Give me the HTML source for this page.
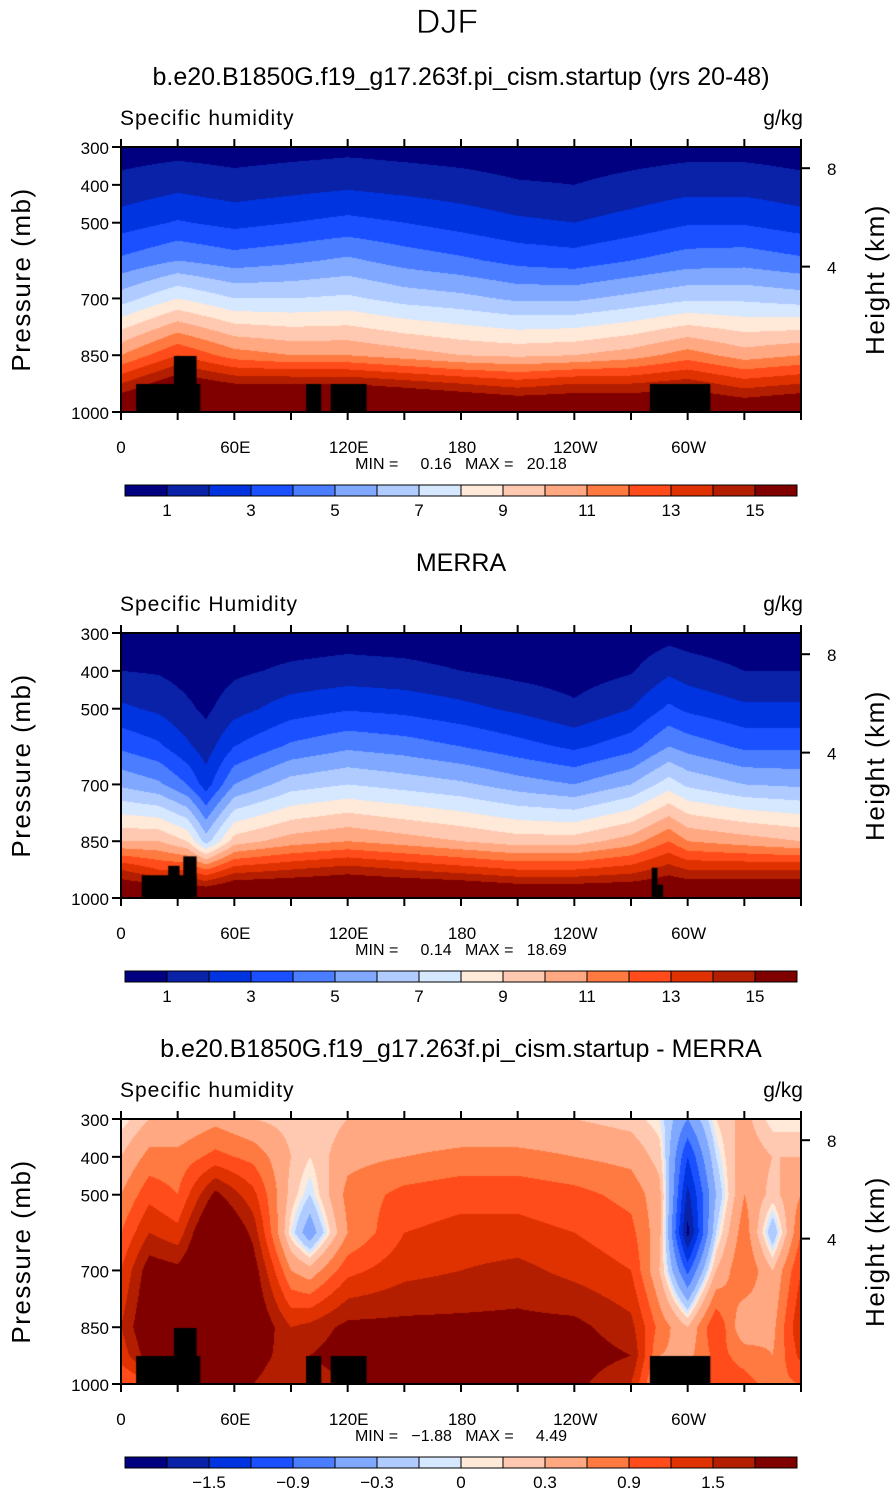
<!DOCTYPE html>
<html><head><meta charset="utf-8">
<style>
body{margin:0;background:#fff;width:895px;height:1493px;overflow:hidden;font-family:"Liberation Sans",sans-serif;}
#root{position:relative;width:895px;height:1493px;}
canvas{position:absolute;}
svg{position:absolute;left:0;top:0;}
</style></head><body>
<div id="root">
<canvas id="c0" width="680" height="265" style="left:121px;top:147px"></canvas>
<canvas id="c1" width="680" height="265" style="left:121px;top:633px"></canvas>
<canvas id="c2" width="680" height="265" style="left:121px;top:1119px"></canvas>
<svg id="ov" width="895" height="1493"></svg>
</div>
<script>
const presLevels=[300,400,500,600,700,850,925,1000];
const levelsQ=[1,2,3,4,5,6,7,8,9,10,11,12,13,14,15];
const levelsD=[-1.8,-1.5,-1.2,-0.9,-0.6,-0.3,-0.1,0,0.1,0.3,0.6,0.9,1.2,1.5,1.8];
const colors=["#000080","#0a22a8","#0034e0","#1a50ff","#4a7dff","#80a8ff","#b0cbff","#d6e8ff","#ffe9d8","#ffc8b0","#ffa882","#ff7a40","#ff4c1a","#e03200","#b41e00","#800000"];
const cbarLabelsQ=["1","3","5","7","9","11","13","15"];
const cbarLabelsD=["\u22121.5","\u22120.9","\u22120.3","0","0.3","0.9","1.5"];
const xTickLabels=["0","60E","120E","180","120W","60W"];
const pTicks=[300,400,500,700,850,1000];
const hTicks=[{km:8,p:356},{km:4,p:616}];

const lons0=[0,30,60,90,120,150,180,210,240,270,300,330,360];
const vals0=[
[0.5,1.3,2.5,4.2,6.5,11,14,17],
[0.6,1.7,3.1,5.0,8.0,13,16,18],
[0.5,1.4,2.7,4.5,7.0,11.5,15,18],
[0.6,1.6,3.0,4.8,7.0,11,15,18],
[0.7,1.8,3.3,5.2,7.2,11,15,18],
[0.6,1.6,3.0,4.6,6.6,10.5,14.5,18],
[0.5,1.4,2.6,4.2,6.3,10,14,17.5],
[0.4,1.1,2.2,3.7,5.8,9.8,13.5,17],
[0.4,1.0,2.0,3.5,5.8,10,14,17],
[0.5,1.3,2.4,4.0,6.3,10.5,14,17],
[0.6,1.6,2.9,4.5,6.8,11.5,14.5,17],
[0.6,1.6,2.9,4.6,6.8,10.5,13.5,16.5],
[0.5,1.3,2.5,4.2,6.5,11,14,17]];
const lons1=[0,20,35,45,60,90,120,150,180,210,240,270,290,300,330,360];
const vals1=[
[0.3,1.0,2.2,3.8,5.8,10,14,17],
[0.3,0.9,1.8,3.2,5.2,10,13,17],
[0.2,0.6,1.2,2.2,4.0,9,13,17],
[0.2,0.4,0.8,1.5,2.5,6.5,12,17],
[0.3,0.8,1.6,3.0,5.0,9.5,13.5,17.5],
[0.4,1.2,2.5,4.2,6.5,10.5,14,17.5],
[0.5,1.4,2.9,4.8,7.0,11,14.5,17.5],
[0.4,1.3,2.7,4.5,6.6,10.5,14,17.5],
[0.3,1.0,2.3,4.0,6.2,10,13.5,17.5],
[0.2,0.7,1.8,3.4,5.5,9.5,13,17],
[0.15,0.5,1.2,2.8,5.0,9.5,13,17],
[0.3,0.9,2.0,3.6,6.0,10.5,13.5,17],
[0.6,1.8,3.2,5.0,7.5,12,14.5,17],
[0.5,1.5,2.8,4.6,6.8,11,14,17],
[0.3,1.0,2.2,3.8,6.0,10.5,14,17],
[0.3,1.0,2.2,3.8,5.8,10,14,17]];
const lons2=[0,15,30,50,70,90,100,120,150,180,210,240,270,285,300,315,330,345,360];
const vals2=[
[0.0,0.3,0.6,0.9,1.2,1.5,1.3,0.9],
[0.3,0.7,1.1,1.5,2.0,2.2,2.0,1.0],
[0.3,0.7,0.9,1.3,1.9,2.0,2.0,2.0],
[0.5,1.0,1.9,2.5,2.5,2.5,2.2,2.0],
[0.3,0.8,1.3,1.7,2.0,2.2,2.0,1.8],
[0.2,0.3,0.2,0.0,0.6,1.5,1.6,1.5],
[0.1,0.1,-0.1,-0.5,0.4,1.6,1.8,1.6],
[0.3,0.5,0.7,0.6,1.1,1.9,2.0,1.8],
[0.3,0.6,1.0,1.2,1.4,1.9,2.0,2.0],
[0.3,0.7,1.1,1.3,1.5,1.9,2.1,2.0],
[0.3,0.7,1.1,1.3,1.6,1.9,2.0,1.9],
[0.3,0.6,1.0,1.2,1.4,1.9,2.0,1.9],
[0.2,0.5,0.8,1.0,1.2,1.6,1.8,1.5],
[0.0,0.2,0.4,0.4,0.3,0.8,0.6,0.4],
[-0.6,-1.2,-1.6,-1.9,-1.0,0.3,0.5,0.6],
[0.1,-0.1,-0.3,-0.1,0.3,1.2,1.0,1.0],
[0.4,0.5,0.6,0.8,0.9,0.3,0.8,1.0],
[0.0,0.3,0.2,-0.3,0.3,0.5,0.6,0.8],
[0.0,0.3,0.6,0.9,1.2,1.5,1.3,0.9]];
const land0=[[8,42,926,1000],[28,40,852,1000],[98,106,926,1000],[111,130,926,1000],[280,312,926,1000]];
const land1=[[11,40,940,1000],[25,31,915,1000],[33,40,890,1000],[281,284,920,1000],[284,287,965,1000]];
const land2=land0;

const W=680,H=265;
const xS=l=>l/360*W;
const yS=p=>(p-300)/700*H;
const pFromY=y=>300+y/H*700;

function interp(arr,v){let i=0;while(i<arr.length-2&&v>arr[i+1])i++;return [i,(v-arr[i])/(arr[i+1]-arr[i])];}
function hex(c){return [parseInt(c.slice(1,3),16),parseInt(c.slice(3,5),16),parseInt(c.slice(5,7),16)];}
const rgb=colors.map(hex);
function draw(id,lons,vals,levels,land){
  const ctx=document.getElementById(id).getContext('2d');
  const img=ctx.createImageData(W,H);
  for(let x=0;x<W;x++){
    const [i,fx]=interp(lons,(x+0.5)/W*360);
    for(let y=0;y<H;y++){
      const [j,fy]=interp(presLevels,pFromY(y+0.5));
      const a=vals[i][j]*(1-fx)+vals[i+1][j]*fx, b=vals[i][j+1]*(1-fx)+vals[i+1][j+1]*fx;
      const v=a*(1-fy)+b*fy;
      let k=0;while(k<levels.length&&v>=levels[k])k++;
      const c=rgb[k],o=(y*W+x)*4;
      img.data[o]=c[0];img.data[o+1]=c[1];img.data[o+2]=c[2];img.data[o+3]=255;
    }
  }
  ctx.putImageData(img,0,0);
  ctx.fillStyle="#000";
  land.forEach(r=>ctx.fillRect(xS(r[0]),yS(r[2]),xS(r[1])-xS(r[0]),yS(r[3])-yS(r[2])));
}
draw('c0',lons0,vals0,levelsQ,land0);
draw('c1',lons1,vals1,levelsQ,land1);
draw('c2',lons2,vals2,levelsD,land2);

const svg=document.getElementById('ov');
const NS="http://www.w3.org/2000/svg";
function el(t,a,txt){const e=document.createElementNS(NS,t);for(const k in a)e.setAttribute(k,a[k]);if(txt!==undefined)e.textContent=txt;svg.appendChild(e);return e;}
function text(x,y,s,size,anchor,name,extra){const e=el('text',Object.assign({x:x,y:y,'font-size':size,'text-anchor':anchor||'start','font-family':'"Liberation Sans",sans-serif',fill:'#000'},extra||{}),s);return e;}

text(447,33,"DJF",34,'middle','figure-title',{'stroke':'#fff','stroke-width':'0.8'});
const panels=[
 {top:147,title:"b.e20.B1850G.f19_g17.263f.pi_cism.startup (yrs 20-48)",var:"Specific humidity",mm:"MIN =     0.16   MAX =   20.18",cb:cbarLabelsQ,cbIdx:[1,3,5,7,9,11,13,15],name:"model"},
 {top:633,title:"MERRA",var:"Specific Humidity",mm:"MIN =     0.14   MAX =   18.69",cb:cbarLabelsQ,cbIdx:[1,3,5,7,9,11,13,15],name:"merra"},
 {top:1119,title:"b.e20.B1850G.f19_g17.263f.pi_cism.startup - MERRA",var:"Specific humidity",mm:"MIN =   \u22121.88   MAX =     4.49",cb:cbarLabelsD,cbIdx:[2,4,6,8,10,12,14],name:"difference"}
];
panels.forEach(P=>{
  const T=P.top,L=121,R=801,B=T+H;
  text(461,T-62,P.title,25,'middle',P.name+'-title');
  text(120,T-22,P.var,21,'start',P.name+'-variable-label',{'letter-spacing':'1'});
  text(803,T-22,"g/kg",21,'end',P.name+'-units-label');
  const fr=el('rect',{x:L,y:T,width:W,height:H,fill:'none',stroke:'#000','stroke-width':2});
  
  for(let l=0;l<=360;l+=30){const x=L+xS(l);
    el('line',{x1:x,y1:B,x2:x,y2:B+8,stroke:'#000','stroke-width':2});
    el('line',{x1:x,y1:T,x2:x,y2:T-8,stroke:'#000','stroke-width':2});}
  xTickLabels.forEach((s,i)=>text(L+xS(i*60)+(i==0?0:1),B+41,s,17,'middle',P.name+'-x-tick-label'));
  pTicks.forEach(p=>{const y=T+yS(p);el('line',{x1:L-9,y1:y,x2:L,y2:y,stroke:'#000','stroke-width':2});
    text(L-12,y+7,String(p),17,'end',P.name+'-y-tick-label');});
  hTicks.forEach(h=>{const y=T+yS(h.p);el('line',{x1:R,y1:y,x2:R+9,y2:y,stroke:'#000','stroke-width':2});
    text(R+26,y+7,String(h.km),17,'start',P.name+'-height-tick-label');});
  text(30,T+H/2,"Pressure (mb)",26,'middle',P.name+'-y-axis-title',{transform:`rotate(-90 30 ${T+H/2})`,'letter-spacing':'1.5'});
  text(884,T+H/2,"Height (km)",26,'middle',P.name+'-right-axis-title',{transform:`rotate(-90 884 ${T+H/2})`,'letter-spacing':'1.5'});
  text(461,B+57,P.mm,16,'middle',P.name+'-min-max-label',{style:'white-space:pre'});
  const cy=B+73,cx=125,bw=42;
  colors.forEach((c,k)=>{const r=el('rect',{x:cx+k*bw,y:cy,width:bw,height:11,fill:c,stroke:'#000','stroke-width':1});
    });
  P.cb.forEach((s,i)=>text(cx+P.cbIdx[i]*bw,cy+31,s,17,'middle',P.name+'-colorbar-label'));
});
</script>
</body></html>
